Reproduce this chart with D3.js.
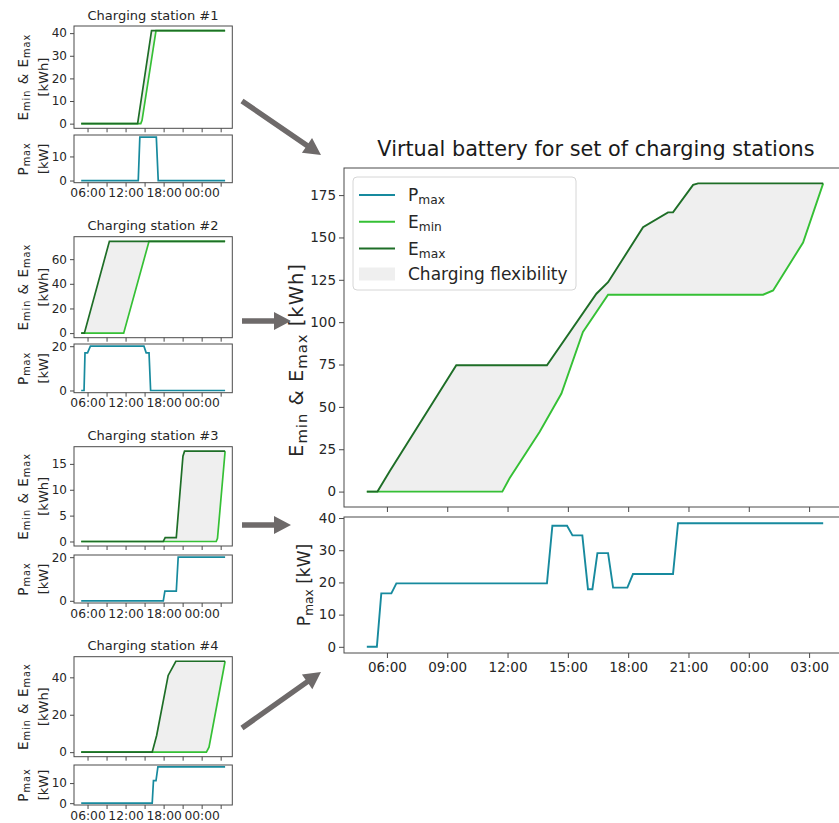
<!DOCTYPE html>
<html><head><meta charset="utf-8">
<script src="https://cdn.jsdelivr.net/npm/d3@7"></script>
<style>
body{margin:0;background:#fff;}
svg{display:block;font-family:"DejaVu Sans",sans-serif;}
</style></head><body>
<svg id="chart" width="839" height="823"></svg>
<script>
// Times are hours after midnight of the first day; values above 24 fall on the next day.

// Virtual battery (aggregate of all stations)
const vbPmax = [[5.0,0],[5.5,0],[5.72,16.6],[6.22,16.6],[6.47,19.7],[13.96,19.7],[14.23,37.6],[14.96,37.6],[15.23,34.6],[15.72,34.6],[16.0,17.9],[16.22,17.9],[16.47,29.1],[17.0,29.1],[17.25,18.4],[17.96,18.4],[18.24,22.6],[20.23,22.6],[20.48,38.4],[27.7,38.4]];
const vbEmin = [[5.0,0],[11.74,0],[12.1,7.9],[13.6,35.3],[14.68,57.9],[15.75,94.2],[17.0,116.2],[24.71,116.2],[25.21,118.7],[26.7,147],[27.7,181.9]];
const vbEmax = [[5.0,0],[5.53,0],[6.13,11.8],[9.45,74.6],[13.96,74.6],[16.42,116.8],[17.0,123.6],[18.74,156],[19.98,164.8],[20.23,164.8],[21.23,181],[21.48,181.9],[27.7,181.9]];

// Charging station #1
const s1Emax = [[5,0],[13.9,0],[16.1,41.1],[27.7,41.1]];
const s1Emin = [[5,0],[14.4,0],[14.6,1.5],[16.8,41.1],[27.7,41.1]];
const s1Pmax = [[5,0],[14.0,0],[14.25,18],[16.85,18],[17.15,0],[27.7,0]];
// Charging station #2
const s2Emax = [[5,0],[5.5,0],[9.45,74.5],[27.7,74.5]];
const s2Emin = [[5,0],[11.7,0],[15.7,74.5],[27.7,74.5]];
const s2Pmax = [[5,0],[5.45,0],[5.6,17],[6.0,17],[6.45,20],[14.9,20],[15.25,17],[15.7,17],[15.95,0],[27.7,0]];
// Charging station #3
const s3Emax = [[5,0],[17.95,0],[18.25,0.75],[20.0,0.75],[21.05,16.5],[21.3,17.45],[27.7,17.45]];
const s3Emin = [[5,0],[26.3,0],[26.5,0.6],[27.7,17.45]];
const s3Pmax = [[5,0],[17.95,0],[18.2,4.4],[20.0,4.4],[20.3,20],[27.7,20]];
// Charging station #4
const s4Emax = [[5,0],[16.2,0],[16.9,8.9],[18.72,41],[19.93,48.6],[27.7,48.6]];
const s4Emin = [[5,0],[24.75,0],[25.16,2.7],[27.7,48.6]];
const s4Pmax = [[5,0],[16.2,0],[16.4,11.2],[16.8,11.2],[17.1,18.1],[27.7,18.1]];

const stationNames = ["Charging station #1","Charging station #2","Charging station #3","Charging station #4"];
const stationEmax = [s1Emax, s2Emax, s3Emax, s4Emax];
const stationEmin = [s1Emin, s2Emin, s3Emin, s4Emin];
const stationPmax = [s1Pmax, s2Pmax, s3Pmax, s4Pmax];
const stationETicks = [[0,10,20,30,40],[0,20,40,60],[0,5,10,15],[0,20,40]];
const stationPTicks = [[0,10],[0,20],[0,20],[0,10]];

const vbETicks = [0,25,50,75,100,125,150,175];
const vbPTicks = [0,10,20,30,40];
const legendLabels = [["P","max"],["E","min"],["E","max"],["Charging flexibility",""]];

// ---------------------------------------------------------------
const COL = {p:"#178a9e", emin:"#35c035", emax:"#1e6e27", fill:"#efefef",
             spine:"#4a4a4a", text:"#262626", arrow:"#6e6a6a"};
const BASE = Date.UTC(2021, 5, 1);
const toDate = h => new Date(BASE + h * 3600e3);
const fmt = d3.utcFormat("%H:%M");
const pad = ext => { const r = ext[1] - ext[0]; return [ext[0] - 0.05 * r, ext[1] + 0.05 * r]; };
const tDom = pad(d3.extent(vbEmax, d => d[0])).map(toDate);

const svg = d3.select("#chart");

function addSubText(sel, parts, size, scale = 0.72) {
  let shifted = false;
  parts.forEach(([s, sub]) => {
    if (!s) return;
    const t = sel.append("tspan").text(s);
    if (sub) { t.attr("font-size", size * scale); if (!shifted) { t.attr("dy", size * 0.2); shifted = true; } }
    else if (shifted) { t.attr("dy", -size * 0.2); shifted = false; }
  });
}

function frame(g, x, y) {
  const [xa, xb] = x.range(), [ya, yb] = y.range();
  g.append("rect").attr("x", xa).attr("y", yb).attr("width", xb - xa).attr("height", ya - yb)
    .attr("fill", "none").attr("stroke", COL.spine).attr("stroke-width", 1);
}

function styleAxis(a, size) {
  a.attr("font-family", null).attr("font-size", size);
  a.select(".domain").remove();
  a.selectAll("line").attr("stroke", COL.spine);
  a.selectAll("text").attr("fill", COL.text);
}

function drawEnergy(g, x, y, emin, emax, w) {
  const line = d3.line().x(d => x(toDate(d[0]))).y(d => y(d[1]));
  g.append("path").attr("d", line(emax.concat(emin.slice().reverse())) + "Z")
    .attr("fill", COL.fill).attr("stroke", "none");
  g.append("path").attr("d", line(emin)).attr("fill", "none").attr("stroke", COL.emin).attr("stroke-width", w);
  g.append("path").attr("d", line(emax)).attr("fill", "none").attr("stroke", COL.emax).attr("stroke-width", w);
}
function drawPower(g, x, y, p, w) {
  const line = d3.line().x(d => x(toDate(d[0]))).y(d => y(d[1]));
  g.append("path").attr("d", line(p)).attr("fill", "none").attr("stroke", COL.p).attr("stroke-width", w);
}

// ---------- small per-station charts ----------
const stationLayout = [
  {eTop: 26,    eBot: 128.3, pTop: 135, pBot: 182.7},
  {eTop: 236.7, eBot: 337.7, pTop: 344, pBot: 392.7},
  {eTop: 446.7, eBot: 546,   pTop: 555, pBot: 603},
  {eTop: 656.7, eBot: 756.7, pTop: 765, pBot: 805}
];

stationLayout.forEach((L, i) => {
  const g = svg.append("g");
  const x = d3.scaleUtc().domain(tDom).range([74, 232.3]);
  const eVals = stationEmax[i].concat(stationEmin[i]).map(d => d[1]);
  const yE = d3.scaleLinear().domain(pad(d3.extent(eVals))).range([L.eBot, L.eTop]);
  const yP = d3.scaleLinear().domain(pad(d3.extent(stationPmax[i], d => d[1]))).range([L.pBot, L.pTop]);

  drawEnergy(g, x, yE, stationEmin[i], stationEmax[i], 1.7);
  drawPower(g, x, yP, stationPmax[i], 1.7);
  frame(g, x, yE); frame(g, x, yP);

  const xt = d3.utcHour.every(3);
  g.append("g").attr("transform", `translate(0,${L.eBot})`)
    .call(d3.axisBottom(x).ticks(xt).tickSize(4).tickFormat(""))
    .call(a => styleAxis(a, 12.3));
  g.append("g").attr("transform", `translate(0,${L.pBot})`)
    .call(d3.axisBottom(x).ticks(xt).tickSize(4).tickPadding(2)
      .tickFormat(d => d.getUTCHours() % 6 === 0 ? fmt(d) : ""))
    .call(a => styleAxis(a, 12.3));
  g.append("g").attr("transform", "translate(74,0)")
    .call(d3.axisLeft(yE).tickValues(stationETicks[i]).tickSize(4).tickPadding(3))
    .call(a => styleAxis(a, 12));
  g.append("g").attr("transform", "translate(74,0)")
    .call(d3.axisLeft(yP).tickValues(stationPTicks[i]).tickSize(4).tickPadding(3))
    .call(a => styleAxis(a, 12));

  g.append("text").attr("x", 153).attr("y", L.eTop - 6.5).attr("text-anchor", "middle")
    .attr("font-size", 13).attr("fill", COL.text).text(stationNames[i]);

  const ec = (L.eTop + L.eBot) / 2, pc = (L.pTop + L.pBot) / 2;
  const t1 = g.append("text").attr("transform", `translate(27.5,${ec}) rotate(-90)`)
    .attr("text-anchor", "middle").attr("font-size", 13.5).attr("letter-spacing", 1)
    .attr("fill", COL.text);
  addSubText(t1, [["E",0],["min",1],[" & E",0],["max",1]], 13.5);
  g.append("text").attr("transform", `translate(47.5,${ec}) rotate(-90)`)
    .attr("text-anchor", "middle").attr("font-size", 13).attr("fill", COL.text).text("[kWh]");
  const t2 = g.append("text").attr("transform", `translate(27.5,${pc}) rotate(-90)`)
    .attr("text-anchor", "middle").attr("font-size", 13.5).attr("letter-spacing", 1)
    .attr("fill", COL.text);
  addSubText(t2, [["P",0],["max",1]], 13.5);
  g.append("text").attr("transform", `translate(47.5,${pc}) rotate(-90)`)
    .attr("text-anchor", "middle").attr("font-size", 13).attr("fill", COL.text).text("[kW]");
});

// ---------- virtual battery chart ----------
{
  const g = svg.append("g");
  const x = d3.scaleUtc().domain(tDom).range([344, 846]);
  const eVals = vbEmax.concat(vbEmin).map(d => d[1]);
  const yE = d3.scaleLinear().domain(pad(d3.extent(eVals))).range([507, 168]);
  const yP = d3.scaleLinear().domain(pad(d3.extent(vbPmax, d => d[1]))).range([653, 517]);

  drawEnergy(g, x, yE, vbEmin, vbEmax, 1.9);
  drawPower(g, x, yP, vbPmax, 1.9);
  frame(g, x, yE); frame(g, x, yP);

  const xt = d3.utcHour.every(3);
  g.append("g").attr("transform", "translate(0,507)")
    .call(d3.axisBottom(x).ticks(xt).tickSize(5).tickFormat(""))
    .call(a => styleAxis(a, 13.5));
  g.append("g").attr("transform", "translate(0,653)")
    .call(d3.axisBottom(x).ticks(xt).tickSize(5).tickPadding(4).tickFormat(fmt))
    .call(a => styleAxis(a, 13.5));
  g.append("g").attr("transform", "translate(344,0)")
    .call(d3.axisLeft(yE).tickValues(vbETicks).tickSize(5).tickPadding(3))
    .call(a => styleAxis(a, 13.5));
  g.append("g").attr("transform", "translate(344,0)")
    .call(d3.axisLeft(yP).tickValues(vbPTicks).tickSize(5).tickPadding(3))
    .call(a => styleAxis(a, 13.5));

  g.append("text").attr("x", 596).attr("y", 156).attr("text-anchor", "middle")
    .attr("font-size", 20.8).attr("fill", "#1a1a1a").text("Virtual battery for set of charging stations");

  const l1 = g.append("text").attr("transform", "translate(303,360) rotate(-90)")
    .attr("text-anchor", "middle").attr("font-size", 19.5).attr("letter-spacing", 1)
    .attr("fill", COL.text);
  addSubText(l1, [["E",0],["min",1],[" & E",0],["max",1],[" [kWh]",0]], 19.5, 0.76);
  const l2 = g.append("text").attr("transform", "translate(310,585) rotate(-90)")
    .attr("text-anchor", "middle").attr("font-size", 17).attr("fill", COL.text);
  addSubText(l2, [["P",0],["max",1],[" [kW]",0]], 17);

  // legend
  const lg = g.append("g");
  lg.append("rect").attr("x", 353).attr("y", 177).attr("width", 223).attr("height", 113)
    .attr("rx", 4).attr("fill", "#fff").attr("fill-opacity", 0.85).attr("stroke", "#d6d6d6");
  const rowY = [195, 221.7, 248.5, 274];
  const sw = [COL.p, COL.emin, COL.emax, null];
  legendLabels.forEach((lab, k) => {
    if (sw[k]) lg.append("line").attr("x1", 359).attr("x2", 395).attr("y1", rowY[k]).attr("y2", rowY[k])
      .attr("stroke", sw[k]).attr("stroke-width", 1.9);
    else lg.append("rect").attr("x", 359).attr("y", rowY[k] - 6.5).attr("width", 36).attr("height", 13)
      .attr("fill", COL.fill).attr("stroke", "none");
    const t = lg.append("text").attr("x", 408).attr("y", rowY[k] + 6).attr("font-size", 17).attr("fill", COL.text);
    addSubText(t, [[lab[0],0],[lab[1],1]], 17);
  });
}

// ---------- arrows linking stations to the virtual battery ----------
function arrow(x0, y0, x1, y1) {
  const dx = x1 - x0, dy = y1 - y0, len = Math.hypot(dx, dy);
  const ux = dx / len, uy = dy / len, nx = -uy, ny = ux;
  const hl = 17, hw = 9, sw = 2.7;
  const bx = x1 - ux * hl, by = y1 - uy * hl;
  const pts = [[x0 + nx * sw, y0 + ny * sw], [bx + nx * sw, by + ny * sw], [bx + nx * hw, by + ny * hw],
               [x1, y1], [bx - nx * hw, by - ny * hw], [bx - nx * sw, by - ny * sw], [x0 - nx * sw, y0 - ny * sw]];
  svg.append("path").attr("d", d3.line()(pts) + "Z").attr("fill", COL.arrow);
}
arrow(242, 101, 321, 155);
arrow(242, 321, 291, 321);
arrow(242, 525, 291, 525);
arrow(242, 728, 321, 672);
</script>
</body></html>
